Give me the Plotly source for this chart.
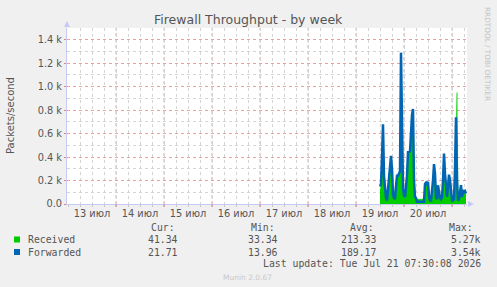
import plotly.graph_objects as go
import pandas as pd

# ---- data (hours after 2026-07-19 00:00, packets/second) ----
hours = [12.0, 12.5, 13.0, 13.5, 14.0, 14.5, 15.0, 15.5, 16.0, 16.5, 17.0, 17.5, 18.0, 18.5,
         19.0, 19.5, 20.0, 20.5, 21.0, 21.5, 22.0, 22.5, 23.0, 23.5, 24.0, 24.5, 25.0, 25.5,
         26.0, 26.5, 27.0, 27.5, 28.0, 28.5, 29.0, 29.5, 30.0, 30.5, 31.0, 32.0, 33.0, 34.0,
         34.5, 35.0, 35.5, 36.0, 36.5, 37.0, 37.5, 38.0, 38.5, 39.0, 39.5, 40.0, 40.5, 41.0,
         41.5, 42.0, 42.5, 43.0, 43.5, 44.0, 44.5, 45.0, 45.5, 46.0, 46.5, 47.0, 47.5, 48.0,
         48.5, 49.0, 49.5, 50.0, 50.5, 51.0, 51.5, 52.0, 52.5, 53.0, 53.5, 54.0, 54.5, 55.0]
received = [120, 150, 380, 600, 220, 150, 50, 30, 100, 160, 250, 380, 280, 100,
            60, 120, 180, 230, 240, 250, 270, 1150, 500, 120, 60, 50, 130, 220,
            420, 430, 430, 620, 720, 760, 180, 70, 60, 40, 40, 40, 40, 50,
            180, 190, 170, 180, 70, 40, 40, 90, 190, 300, 250, 70, 50, 150,
            100, 60, 50, 60, 180, 400, 240, 100, 70, 140, 230, 190, 100, 40,
            40, 50, 280, 700, 950, 40, 50, 100, 150, 70, 110, 100, 100, 80]
forwarded = [150, 170, 400, 680, 240, 150, 50, 30, 120, 180, 300, 410, 300, 80,
             50, 50, 150, 240, 240, 260, 280, 1290, 600, 130, 70, 60, 150, 240,
             440, 440, 450, 650, 760, 810, 200, 60, 50, 20, 20, 20, 20, 20,
             170, 180, 160, 190, 60, 30, 30, 100, 200, 340, 260, 60, 40, 160,
             100, 50, 40, 60, 200, 430, 260, 100, 60, 150, 250, 200, 100, 30,
             30, 40, 300, 740, 200, 30, 40, 100, 160, 60, 120, 100, 110, 90]

day_ticks = ["2026-07-13 12:00", "2026-07-14 12:00", "2026-07-15 12:00", "2026-07-16 12:00",
             "2026-07-17 12:00", "2026-07-18 12:00", "2026-07-19 12:00", "2026-07-20 12:00"]
day_labels = ["13 июл", "14 июл", "15 июл", "16 июл", "17 июл", "18 июл", "19 июл", "20 июл"]
y_ticks = [0, 200, 400, 600, 800, 1000, 1200, 1400]
y_labels = ["0.0", "0.2 k", "0.4 k", "0.6 k", "0.8 k", "1.0 k", "1.2 k", "1.4 k"]

legend_names = ["Received", "Forwarded"]
legend_colors = ["#00CC00", "#0066B3"]
stat_headers = ["Cur:", "Min:", "Avg:", "Max:"]
stats = [["41.34", "33.34", "213.33", "5.27k"],
         ["21.71", "13.96", "189.17", "3.54k"]]

base = pd.Timestamp("2026-07-19 00:00")
times = [base + pd.Timedelta(hours=h) for h in hours]
x_start = pd.Timestamp("2026-07-12 23:30")
x_end = pd.Timestamp("2026-07-21 07:30")

# ---- layout geometry (pixels) ----
W, H = 497, 287
L, R, T, B = 67, 30, 28, 83
PW, PH = W - L - R, H - T - B


def px(x):
    return (x - L) / PW


def py(y):
    return (H - B - y) / PH


fig = go.Figure()
fig.add_trace(go.Scatter(x=times, y=received, mode="lines", fill="tozeroy",
                         line=dict(color=legend_colors[0], width=0.5),
                         fillcolor=legend_colors[0], showlegend=False))
fig.add_trace(go.Scatter(x=times, y=forwarded, mode="lines",
                         line=dict(color=legend_colors[1], width=2.5),
                         showlegend=False))

shapes = []
# red day lines
for d in pd.date_range("2026-07-14", "2026-07-21", freq="D"):
    shapes.append(dict(type="line", xref="x", yref="paper", x0=d, x1=d, y0=0, y1=1,
                       line=dict(color="#E9A0A0", width=1, dash="dot"), layer="between"))
    shapes.append(dict(type="line", xref="x", yref="paper", x0=d, x1=d, y0=0, y1=-3 / PH,
                       line=dict(color="#E08080", width=1), layer="above"))
# axis arrows
ac = "#C8C8F4"
shapes.append(dict(type="path", xref="paper", yref="paper",
                   path=f"M {px(64)} {py(27)} L {px(70)} {py(27)} L {px(67)} {py(21)} Z",
                   fillcolor=ac, line=dict(color=ac, width=0)))
shapes.append(dict(type="path", xref="paper", yref="paper",
                   path=f"M {px(468)} {py(201)} L {px(468)} {py(207)} L {px(474)} {py(204)} Z",
                   fillcolor=ac, line=dict(color=ac, width=0)))
# legend squares
for i, c in enumerate(legend_colors):
    yc = 239.5 + i * 12.5
    shapes.append(dict(type="rect", xref="paper", yref="paper",
                       x0=px(14), x1=px(20), y0=py(yc + 3), y1=py(yc - 3),
                       fillcolor=c, line=dict(width=0)))

ann = []
mono = "DejaVu Sans Mono"
tc = "#555555"
ann.append(dict(text="Firewall Throughput - by week", x=px(248.5), y=py(19), xref="paper", yref="paper",
                showarrow=False, font=dict(family="DejaVu Sans", size=12.5, color="#555555"),
                xanchor="center", yanchor="middle"))
ann.append(dict(text="Packets/second", x=px(10), y=py(116), xref="paper", yref="paper",
                showarrow=False, textangle=-90, font=dict(family="DejaVu Sans", size=10, color=tc),
                xanchor="center", yanchor="middle"))
ann.append(dict(text="RRDTOOL / TOBI OETIKER", x=px(488), y=py(5), xref="paper", yref="paper",
                showarrow=False, textangle=90, font=dict(family="DejaVu Sans", size=7.3, color="#C4C4C4"),
                xanchor="center", yanchor="top"))
# legend header
hdr_left = [149, 249, 348, 447]
for h, xl in zip(stat_headers, hdr_left):
    ann.append(dict(text=h, x=px(xl), y=py(227.5), xref="paper", yref="paper", showarrow=False,
                    font=dict(family=mono, size=9.8, color=tc), xanchor="left", yanchor="middle"))
val_right = [180, 280, 378, 483]
for i, name in enumerate(legend_names):
    yc = 239.5 + i * 12.5
    ann.append(dict(text=name, x=px(26), y=py(yc), xref="paper", yref="paper", showarrow=False,
                    font=dict(family=mono, size=9.8, color=tc), xanchor="left", yanchor="middle"))
    for v, xr in zip(stats[i], val_right):
        ann.append(dict(text=v, x=px(xr), y=py(yc), xref="paper", yref="paper", showarrow=False,
                        font=dict(family=mono, size=9.8, color=tc), xanchor="right", yanchor="middle"))
ann.append(dict(text="Last update: Tue Jul 21 07:30:08 2026", x=px(483), y=py(263.5), xref="paper",
                yref="paper", showarrow=False, font=dict(family=mono, size=9.8, color=tc),
                xanchor="right", yanchor="middle"))
ann.append(dict(text="Munin 2.0.67", x=px(247), y=py(277), xref="paper", yref="paper", showarrow=False,
                font=dict(family="DejaVu Sans", size=7.5, color="#C8C8C8"), xanchor="center", yanchor="middle"))

fig.update_layout(
    width=W, height=H, margin=dict(l=L, r=R, t=T, b=B, pad=0),
    paper_bgcolor="#F0F0F0", plot_bgcolor="#FFFFFF",
    shapes=shapes, annotations=ann, showlegend=False,
    xaxis=dict(type="date", range=[x_start, x_end], tickvals=day_ticks, ticktext=day_labels,
               showgrid=False, zeroline=False, showline=True, linecolor=ac, linewidth=1,
               ticks="", tickfont=dict(family="DejaVu Sans", size=9.8, color=tc),
               minor=dict(dtick=6 * 3600 * 1000, tick0="2026-07-13 00:00", showgrid=True,
                          gridcolor="#D4D4D4", griddash="dot", gridwidth=1,
                          ticks="outside", ticklen=2, tickcolor="#C8C8C8")),
    yaxis=dict(range=[0, 1500], tickvals=y_ticks, ticktext=y_labels,
               showgrid=True, gridcolor="#E9A0A0", griddash="dot", gridwidth=1,
               zeroline=False, showline=True, linecolor=ac, linewidth=1,
               ticks="outside", ticklen=2, tickcolor="#E08080",
               tickfont=dict(family="DejaVu Sans", size=9.8, color=tc),
               minor=dict(dtick=100, tick0=0, showgrid=True, gridcolor="#D4D4D4",
                          griddash="dot", gridwidth=1)),
)

fig.write_html("out.html")
